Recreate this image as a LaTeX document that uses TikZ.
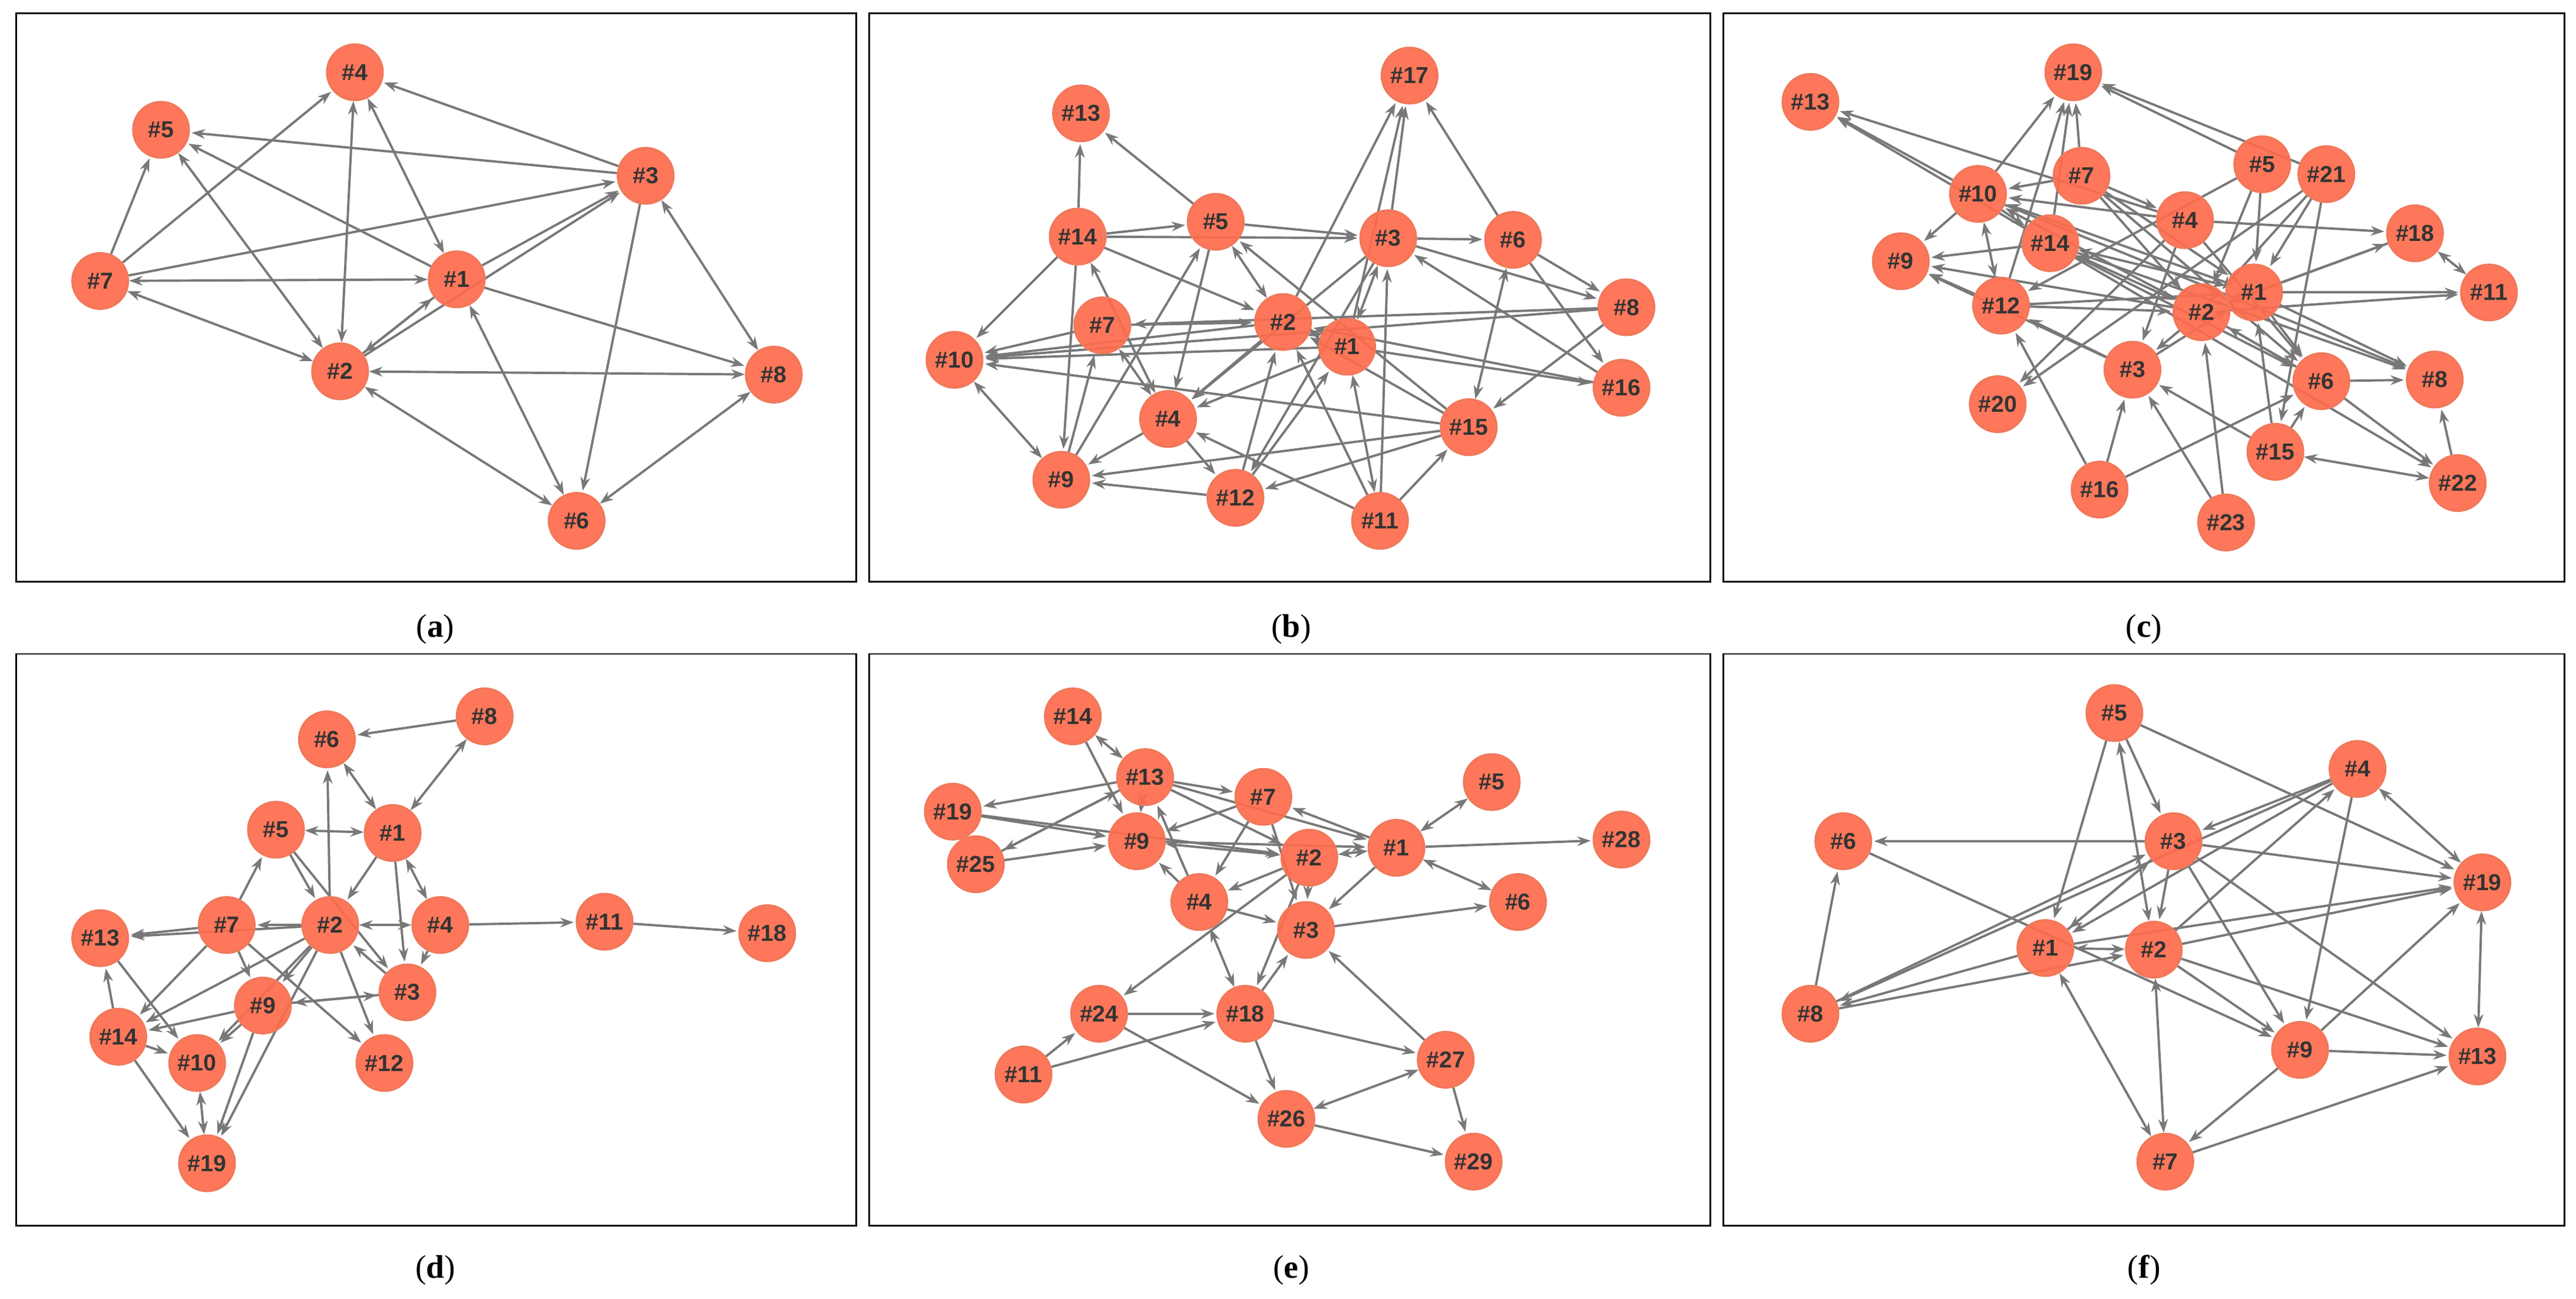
\documentclass[tikz,border=0pt]{standalone}
\usepackage{fontspec}
\setmainfont{Liberation Serif}
\newfontfamily\nodefont{Liberation Sans}
\usetikzlibrary{arrows.meta,backgrounds}
\definecolor{nodefill}{RGB}{255,107,76}
\definecolor{nodeborder}{RGB}{240,120,90}
\definecolor{edgecol}{RGB}{120,120,120}
\tikzset{
  n/.style={circle,fill=nodefill,draw=nodeborder,line width=1pt,fill opacity=0.92,text opacity=1,minimum size=1.02cm,inner sep=0pt,font=\nodefont\bfseries\fontsize{12}{14}\selectfont,text=black!80},
  e/.style={draw=edgecol,line width=1.2pt,-{Stealth[length=7pt,width=5pt]},shorten >=1pt},
  eb/.style={draw=edgecol,line width=1.2pt,{Stealth[length=7pt,width=5pt]}-{Stealth[length=7pt,width=5pt]}},
  frame/.style={draw=black,line width=0.9pt},
  captxt/.style={font=\fontsize{17}{20}\selectfont}
}
\begin{document}
\begin{tikzpicture}[x=0.03cm,y=-0.03cm]
\useasboundingbox (0,0) rectangle (1568,790.3);
% frames
\draw[frame] (10,8) rectangle (521,354);
\draw[frame] (529,8) rectangle (1041,354);
\draw[frame] (1049,8) rectangle (1561,354);
\draw[frame] (10,398) rectangle (521,746);
\draw[frame] (529,398) rectangle (1041,746);
\draw[frame] (1049,398) rectangle (1561,746);
\node[captxt] (ca) at (265,383) {(\textbf{a})};
\node[captxt] (cb) at (786,383) {(\textbf{b})};
\node[captxt] (cc) at (1305,383) {(\textbf{c})};
\node[captxt] (cd) at (265,773) {(\textbf{d})};
\node[captxt] (ce) at (786,773) {(\textbf{e})};
\node[captxt] (cf) at (1305,773) {(\textbf{f})};
% nodes
\foreach \n/\x/\y in {4/216/44,5/98/79,3/393/107,7/61/171,1/278/170,2/207/226,8/471/228,6/351/317}
  \node[n] (a\n) at (\x,\y) {\#\n};
\foreach \n/\x/\y in {17/858/46,13/658/69,14/656/144,5/740/135,3/845/145,6/921/146,8/990/187,7/671/198,2/781/196,1/820/211,10/581/219,16/987/236,4/711/255,15/894/260,9/646/292,12/752/303,11/840/317}
  \node[n] (b\n) at (\x,\y) {\#\n};
\foreach \n/\x/\y in {19/1262/44,13/1102/62,5/1377/100,21/1416/106,7/1267/107,10/1204/118,4/1330/134,18/1470/142,14/1248/148,9/1157/159,1/1372/178,11/1515/178,12/1218/186,2/1340/190,3/1298/225,6/1413/232,8/1482/231,20/1216/246,15/1385/275,16/1278/298,22/1496/294,23/1355/318}
  \node[n] (c\n) at (\x,\y) {\#\n};
\foreach \n/\x/\y in {8/295/436,6/199/450,1/239/507,5/168/505,7/138/563,2/201/563,4/268/563,11/368/561,18/467/568,13/61/571,3/248/604,9/160/612,14/72/631,10/120/647,12/234/647,19/126/708}
  \node[n] (d\n) at (\x,\y) {\#\n};
\foreach \n/\x/\y in {14/653/436,5/908/476,13/697/473,7/769/485,19/580/494,9/692/512,2/797/522,1/850/516,28/987/511,25/594/526,6/924/549,4/730/549,3/795/566,24/669/617,18/758/617,27/880/645,11/623/654,26/783/681,29/897/707}
  \node[n] (e\n) at (\x,\y) {\#\n};
\foreach \n/\x/\y in {5/1287/434,4/1435/468,6/1122/512,3/1323/512,19/1511/537,1/1245/577,2/1311/578,8/1102/617,9/1400/639,13/1508/643,7/1318/707}
  \node[n] (f\n) at (\x,\y) {\#\n};
% edges
\begin{scope}[on background layer]
\foreach \s/\t in {3/4,3/5,7/4,7/5,7/3,2/1,1/2,1/3,2/3,3/6,1/8,1/5}
  \draw[e] (a\s) -- (a\t);
\foreach \s/\t in {7/1,7/2,4/2,4/1,5/2,3/8,2/8,2/6,1/6,8/6}
  \draw[eb] (a\s) -- (a\t);
\foreach \s/\t in {14/13,5/13,2/17,1/17,3/17,6/17,14/5,14/3,14/10,14/9,14/2,5/3,3/6,3/8,6/8,6/16,8/15,1/16,8/7,8/10,16/2,16/3,7/10,2/10,1/10,15/10,15/9,15/12,15/5,15/2,11/2,11/3,11/15,11/4,12/9,4/12,4/9,12/2,12/1,9/7,9/5,7/2,2/4,1/4,5/4,3/12,3/4}
  \draw[e] (b\s) -- (b\t);
\foreach \s/\t in {10/9,7/4,14/4,5/2,3/1,2/1,6/15,11/1}
  \draw[eb] (b\s) -- (b\t);
\foreach \s/\t in {10/13,14/13,4/13,5/19,7/19,10/19,14/19,21/19,12/19,10/9,14/9,12/9,2/9,1/10,2/10,4/10,7/10,7/4,7/2,7/1,7/6,5/12,5/2,5/1,21/1,21/2,21/20,21/15,18/2,1/11,2/11,1/18,4/18,4/6,4/3,4/20,14/6,14/8,14/22,10/8,12/2,12/1,3/12,3/9,3/1,2/3,2/6,1/8,1/6,6/8,6/22,16/3,16/6,16/12,15/6,15/3,15/1,23/2,23/3,22/8,6/2,10/14}
  \draw[e] (c\s) -- (c\t);
\foreach \s/\t in {2/1,1/14,2/14,10/12,18/11,22/15}
  \draw[eb] (c\s) -- (c\t);
\foreach \s/\t in {8/6,2/6,1/2,1/3,4/11,11/18,2/13,7/13,2/7,5/2,5/3,7/5,7/12,2/9,2/10,2/14,2/19,9/14,9/10,9/19,9/3,14/13,13/10,14/10,14/19,7/14,7/9,3/9,2/12,3/2,4/3}
  \draw[e] (d\s) -- (d\t);
\foreach \s/\t in {6/1,5/1,8/1,4/1,2/4,10/19}
  \draw[eb] (d\s) -- (d\t);
\foreach \s/\t in {14/9,13/19,13/25,13/7,13/2,13/1,19/9,19/2,25/13,25/9,9/1,7/9,7/4,7/3,1/7,1/28,1/3,2/4,2/3,4/9,4/3,4/13,2/18,2/24,3/6,18/3,24/18,11/24,11/18,18/27,18/26,27/3,27/29,24/26,26/29}
  \draw[e] (e\s) -- (e\t);
\foreach \s/\t in {14/13,13/9,9/2,1/5,1/6,1/2,4/18,27/26}
  \draw[eb] (e\s) -- (e\t);
\foreach \s/\t in {5/1,5/3,5/19,3/6,4/3,4/1,4/8,4/9,3/19,3/2,3/1,3/9,3/13,2/4,2/19,2/13,2/9,1/3,1/19,1/8,6/9,8/6,8/3,8/2,9/7,7/13,9/13,9/19}
  \draw[e] (f\s) -- (f\t);
\foreach \s/\t in {5/2,4/19,1/2,1/7,2/7,19/13}
  \draw[eb] (f\s) -- (f\t);
\end{scope}
\end{tikzpicture}
\end{document}
